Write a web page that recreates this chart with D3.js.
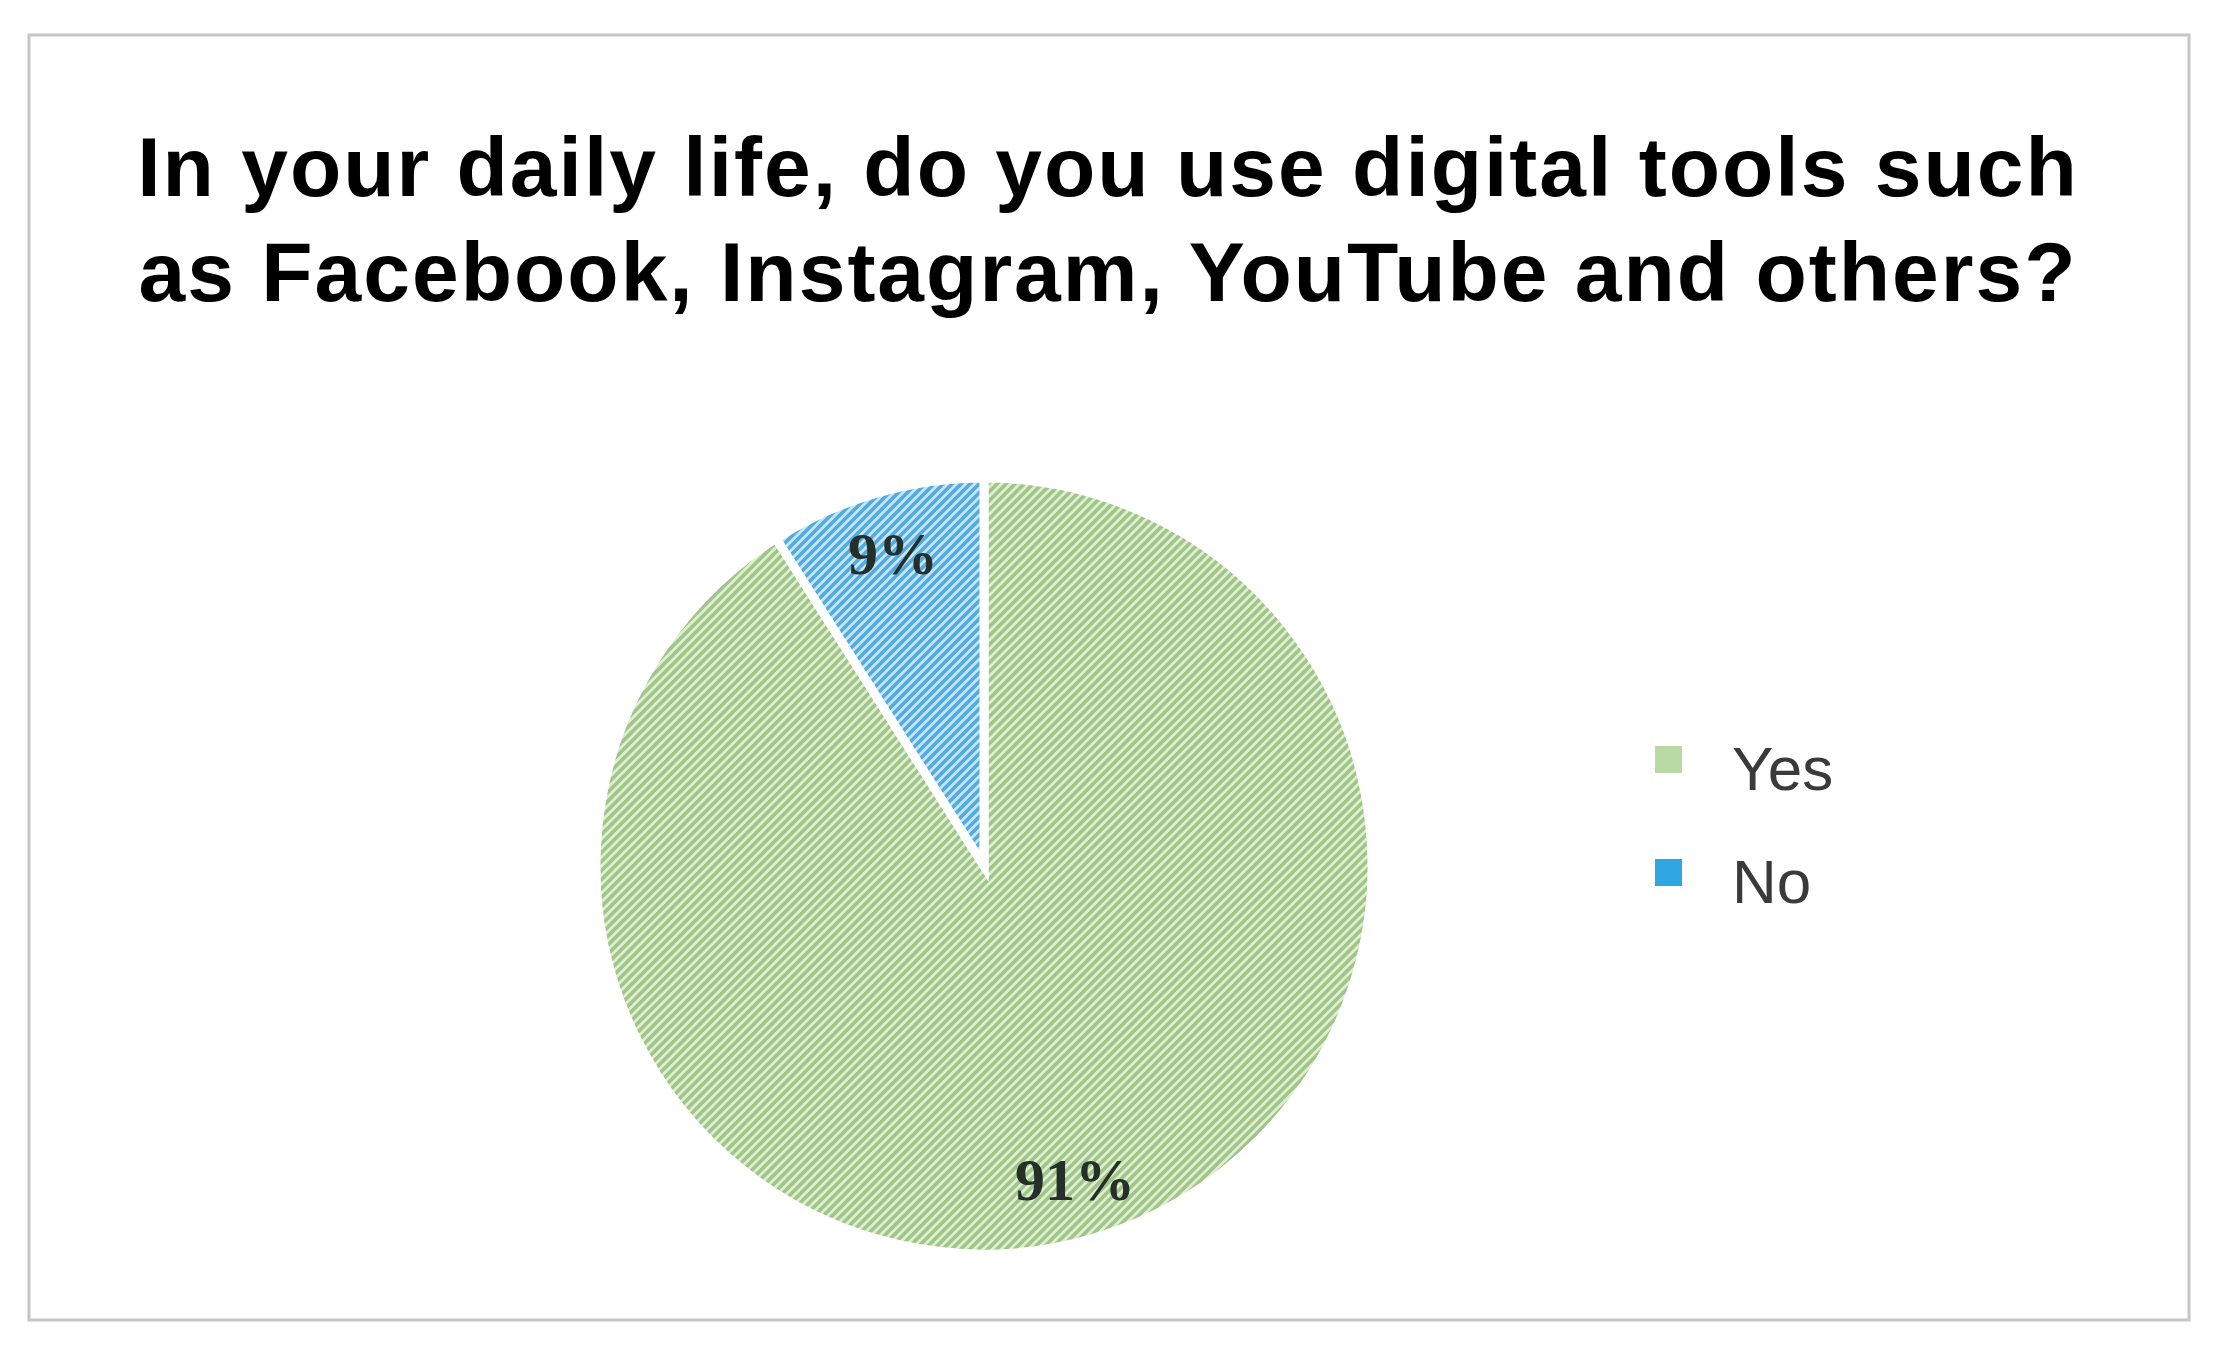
<!DOCTYPE html>
<html>
<head>
<meta charset="utf-8">
<script src="https://cdn.jsdelivr.net/npm/d3@7"></script>
<style>
  html, body { margin: 0; padding: 0; background: #ffffff; }
  svg { display: block; }
</style>
</head>
<body>
<svg id="chart" width="2220" height="1350"></svg>
<script>
// ---- data ----
const titleLines = [
  "In your daily life, do you use digital tools such",
  "as Facebook, Instagram, YouTube and others?"
];
const categories = ["Yes", "No"];
const values = [91, 9];
const labels = ["91%", "9%"];

// ---- layout ----
const W = 2220, H = 1350;
const svg = d3.select("#chart");

const pal = {
  Yes: { light: "#dbf0cd", dark: "#a2c38a", legend: "#b9d9a5" },
  No:  { light: "#c6e5f9", dark: "#52abe0", legend: "#2fa8e2" }
};

// hatch patterns
const defs = svg.append("defs");
categories.forEach(c => {
  const p = defs.append("pattern")
    .attr("id", "hatch-" + c)
    .attr("patternUnits", "userSpaceOnUse")
    .attr("width", 9).attr("height", 9);
  p.append("rect").attr("width", 9).attr("height", 9).attr("fill", pal[c].light);
  p.append("path")
    .attr("d", "M-3,3 L3,-3 M0,9 L9,0 M6,12 L12,6")
    .attr("stroke", pal[c].dark)
    .attr("stroke-width", 3.6)
    .attr("stroke-linecap", "square");
});

// border frame
svg.append("rect")
  .attr("x", 29).attr("y", 35)
  .attr("width", 2160).attr("height", 1285)
  .attr("fill", "none")
  .attr("stroke", "#c6c6c6")
  .attr("stroke-width", 3);

// title
const title = svg.append("text")
  .attr("text-anchor", "middle")
  .attr("font-family", "'Liberation Sans', Arial, sans-serif")
  .attr("font-weight", "bold")
  .attr("font-size", 84)
  .attr("letter-spacing", 2)
  .attr("fill", "#000");
titleLines.forEach((t, i) => {
  title.append("tspan").attr("x", 1108).attr("y", 196 + i * 105).text(t);
});

// pie
const cx = 984, cy = 866, R = 388;
const data = categories.map((c, i) => ({ cat: c, value: values[i], label: labels[i] }));
const pie = d3.pie().value(d => d.value).sort(null).startAngle(0).endAngle(2 * Math.PI);
const arcs = pie(data);
const arc = d3.arc().innerRadius(0).outerRadius(R);
const labelArc = d3.arc().innerRadius(R * 0.84).outerRadius(R * 0.84);

const g = svg.append("g").attr("transform", `translate(${cx},${cy})`);
g.selectAll("path.slice")
  .data(arcs)
  .join("path")
  .attr("class", "slice")
  .attr("d", arc)
  .attr("fill", d => `url(#hatch-${d.data.cat})`)
  .attr("stroke", "#ffffff")
  .attr("stroke-width", 9)
  .attr("stroke-linejoin", "miter");

g.selectAll("text.lbl")
  .data(arcs)
  .join("text")
  .attr("class", "lbl")
  .attr("transform", d => `translate(${labelArc.centroid(d)})`)
  .attr("text-anchor", "middle")
  .attr("dy", "0.35em")
  .attr("font-family", "'Liberation Serif', 'Times New Roman', serif")
  .attr("font-weight", "bold")
  .attr("font-size", 60)
  .attr("fill", "#26302a")
  .text(d => d.data.label);

// legend
const legend = svg.append("g").attr("transform", "translate(1655,790)");
const rowY = d3.scalePoint().domain(categories).range([0, 113]);
const rows = legend.selectAll("g.row")
  .data(categories)
  .join("g")
  .attr("class", "row")
  .attr("transform", d => `translate(0,${rowY(d)})`);
rows.append("rect")
  .attr("x", 0).attr("y", -44)
  .attr("width", 27).attr("height", 27)
  .attr("fill", d => pal[d].legend);
rows.append("text")
  .attr("x", 77).attr("y", 0)
  .attr("font-family", "'Liberation Sans', Arial, sans-serif")
  .attr("font-size", 62)
  .attr("fill", "#3a3a3a")
  .text(d => d);
</script>
</body>
</html>
